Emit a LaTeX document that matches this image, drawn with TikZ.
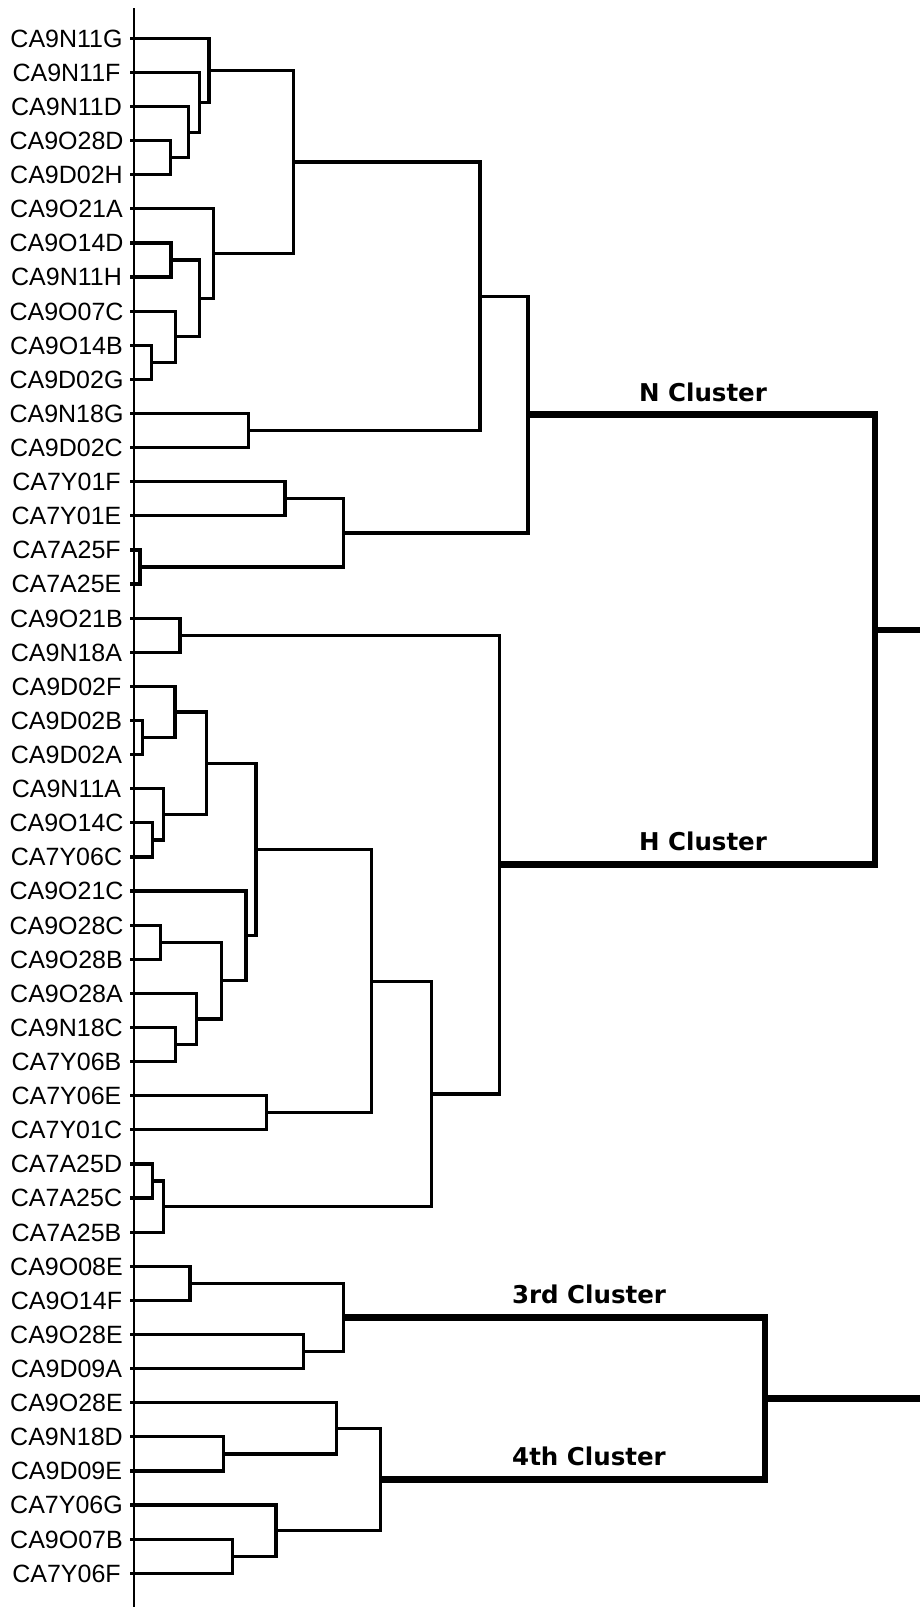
\documentclass[tikz,border=0pt]{standalone}
\usepackage{fontspec}
\setmainfont{Liberation Sans}
\newfontfamily\clfont{DejaVu Sans}
\begin{document}
\begin{tikzpicture}[x=1pt,y=-1pt,
  dend/.style={line width=3.2pt,line join=miter},
  thk/.style={line width=6.8pt,line join=miter},
  axisline/.style={line width=2.2pt},
  leaf/.style={font=\fontsize{25}{25}\selectfont,anchor=center,inner sep=0pt},
  cl/.style={font=\clfont\bfseries\fontsize{24.5}{24.5}\selectfont,inner sep=0pt}]
\useasboundingbox (0,0) rectangle (920,1607);
% leaves
\foreach \t [count=\i] in {CA9N11G,CA9N11F,CA9N11D,CA9O28D,CA9D02H,CA9O21A,CA9O14D,CA9N11H,CA9O07C,CA9O14B,CA9D02G,CA9N18G,CA9D02C,CA7Y01F,CA7Y01E,CA7A25F,CA7A25E,CA9O21B,CA9N18A,CA9D02F,CA9D02B,CA9D02A,CA9N11A,CA9O14C,CA7Y06C,CA9O21C,CA9O28C,CA9O28B,CA9O28A,CA9N18C,CA7Y06B,CA7Y06E,CA7Y01C,CA7A25D,CA7A25C,CA7A25B,CA9O08E,CA9O14F,CA9O28E,CA9D09A,CA9O28E,CA9N18D,CA9D09E,CA7Y06G,CA9O07B,CA7Y06F}{
  \node[leaf] (L\i) at (66.5,{38.6+34.111*(\i-1)}) {\t};
  \coordinate (p\i) at (130,{38.3+34.111*(\i-1)});
}
% axis
\coordinate (axtop) at (134,8);
\coordinate (axbot) at (134,1607);
\draw[axisline] (axtop) -- (axbot);
% merge points
\coordinate (a1) at (170.7,157.65);
\coordinate (a2) at (188.3,132.1);
\coordinate (a3) at (199.3,102.25);
\coordinate (a4) at (209,70.3);
\coordinate (b1) at (151.7,362.35);
\coordinate (b2) at (175.7,336.8);
\coordinate (b3) at (171,260.05);
\coordinate (b4) at (199.3,298.4);
\coordinate (b5) at (213.3,253.65);
\coordinate (c1) at (293.3,161.95);
\coordinate (c2) at (248.3,430.55);
\coordinate (c3) at (480,296.25);
\coordinate (d1) at (285,498.8);
\coordinate (d2) at (140,567.05);
\coordinate (d3) at (343.3,532.9);
\coordinate (NC) at (528,414.6);
\coordinate (e1) at (180,635.25);
\coordinate (f1) at (142.7,737.6);
\coordinate (f2) at (175,712);
\coordinate (f3) at (152.7,839.95);
\coordinate (f4) at (163.3,814.4);
\coordinate (f5) at (206.7,763.2);
\coordinate (g1) at (160.7,942.25);
\coordinate (g2) at (175.7,1044.65);
\coordinate (g3) at (196.7,1019.0);
\coordinate (g4) at (221.7,980.6);
\coordinate (g5) at (246,935.85);
\coordinate (h1) at (256,849.5);
\coordinate (h2) at (266.7,1112.85);
\coordinate (h3) at (371.7,981.2);
\coordinate (i1) at (152.3,1181.05);
\coordinate (i2) at (163.3,1206.6);
\coordinate (i3) at (431.7,1093.9);
\coordinate (HC) at (499.3,864.6);
\coordinate (root) at (875,630);
\coordinate (rootend) at (920,630);
\coordinate (j1) at (190,1283.45);
\coordinate (j2) at (303.3,1351.65);
\coordinate (TC) at (343.3,1317.55);
\coordinate (k1) at (223.3,1453.95);
\coordinate (k2) at (336.7,1428.4);
\coordinate (k3) at (232.3,1556.35);
\coordinate (k4) at (276,1530.8);
\coordinate (FC) at (380.7,1479.6);
\coordinate (rootb) at (765,1398.6);
\coordinate (rootbend) at (920,1398.6);
% N group
\draw[dend] (p4) -| (a1) |- (p5);
\draw[dend] (p3) -| (a2) |- (a1);
\draw[dend] (p2) -| (a3) |- (a2);
\draw[dend] (p1) -| (a4) |- (a3);
\draw[dend] (p10) -| (b1) |- (p11);
\draw[dend] (p9) -| (b2) |- (b1);
\draw[dend] (p7) -| (b3) |- (p8);
\draw[dend] (b3) -| (b4) |- (b2);
\draw[dend] (p6) -| (b5) |- (b4);
\draw[dend] (a4) -| (c1) |- (b5);
\draw[dend] (p12) -| (c2) |- (p13);
\draw[dend] (c1) -| (c3) |- (c2);
\draw[dend] (p14) -| (d1) |- (p15);
\draw[dend] (p16) -| (d2) |- (p17);
\draw[dend] (d1) -| (d3) |- (d2);
\draw[dend] (c3) -| (NC) |- (d3);
% H group
\draw[dend] (p18) -| (e1) |- (p19);
\draw[dend] (p21) -| (f1) |- (p22);
\draw[dend] (p20) -| (f2) |- (f1);
\draw[dend] (p24) -| (f3) |- (p25);
\draw[dend] (p23) -| (f4) |- (f3);
\draw[dend] (f2) -| (f5) |- (f4);
\draw[dend] (p27) -| (g1) |- (p28);
\draw[dend] (p30) -| (g2) |- (p31);
\draw[dend] (p29) -| (g3) |- (g2);
\draw[dend] (g1) -| (g4) |- (g3);
\draw[dend] (p26) -| (g5) |- (g4);
\draw[dend] (f5) -| (h1) |- (g5);
\draw[dend] (p32) -| (h2) |- (p33);
\draw[dend] (h1) -| (h3) |- (h2);
\draw[dend] (p34) -| (i1) |- (p35);
\draw[dend] (i1) -| (i2) |- (p36);
\draw[dend] (h3) -| (i3) |- (i2);
\draw[dend] (e1) -| (HC) |- (i3);
% top root
\draw[thk] (NC) -| (root) |- (HC);
\draw[thk] (root) -- (rootend);
% bottom groups
\draw[dend] (p37) -| (j1) |- (p38);
\draw[dend] (p39) -| (j2) |- (p40);
\draw[dend] (j1) -| (TC) |- (j2);
\draw[dend] (p42) -| (k1) |- (p43);
\draw[dend] (p41) -| (k2) |- (k1);
\draw[dend] (p45) -| (k3) |- (p46);
\draw[dend] (p44) -| (k4) |- (k3);
\draw[dend] (k2) -| (FC) |- (k4);
\draw[thk] (TC) -| (rootb) |- (FC);
\draw[thk] (rootb) -- (rootbend);
% cluster labels
\node[cl] (nlab) at (703,392) {N Cluster};
\node[cl] (hlab) at (703,841.5) {H Cluster};
\node[cl] (tlab) at (589,1294.5) {3rd Cluster};
\node[cl] (flab) at (589,1456.6) {4th Cluster};
\end{tikzpicture}
\end{document}
